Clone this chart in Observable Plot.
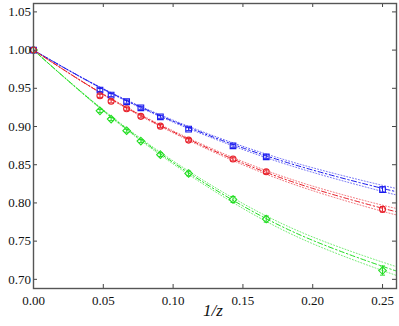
<!DOCTYPE html>
<html>
<head>
<meta charset="utf-8">
<script src="https://cdn.jsdelivr.net/npm/d3@7"></script>
<script src="https://cdn.jsdelivr.net/npm/@observablehq/plot@0.6"></script>
<style>
  html, body { margin: 0; padding: 0; background: #fff; }
  #chart svg { display: block; }
  #chart svg text { font-family: "Liberation Serif", "Times New Roman", serif; }
</style>
</head>
<body>
<div id="chart"></div>
<script>
// 1/z values of the measured points
const xs = [0, 0.0476, 0.0556, 0.0667, 0.0769, 0.0909, 0.1111, 0.1429, 0.1667, 0.25];
// series values and error bars
const blueY  = [1.0, 0.9477, 0.9411, 0.9324, 0.9245, 0.9127, 0.8966, 0.8748, 0.8604, 0.8175];
const blueE  = [0, 0.002, 0.002, 0.002, 0.002, 0.002, 0.002, 0.002, 0.0025, 0.0035];
const redY   = [1.0, 0.9402, 0.9330, 0.9232, 0.9133, 0.9005, 0.8822, 0.8574, 0.8408, 0.7916];
const redE   = [0, 0.002, 0.002, 0.002, 0.002, 0.002, 0.0022, 0.0025, 0.0025, 0.0035];
const greenY = [1.0, 0.9205, 0.9097, 0.8945, 0.8809, 0.8632, 0.8386, 0.8045, 0.7789, 0.7115];
const greenE = [0, 0.002, 0.002, 0.002, 0.002, 0.0025, 0.003, 0.004, 0.004, 0.006];
// fit curves
const fitX     = [0, 0.05, 0.10, 0.15, 0.20, 0.25, 0.26];
const fitBlue  = [1, 0.949, 0.907, 0.872, 0.843, 0.819, 0.815];
const fitRed   = [1, 0.942, 0.893, 0.852, 0.819, 0.793, 0.789];
const fitGreen = [1, 0.921, 0.853, 0.796, 0.751, 0.717, 0.711];
// half-width of the dotted confidence band
const bandBlue  = [0, 0.0006, 0.0013, 0.0021, 0.003, 0.004, 0.0043];
const bandRed   = [0, 0.0006, 0.0013, 0.0021, 0.003, 0.004, 0.0043];
const bandGreen = [0, 0.0009, 0.002, 0.0032, 0.0044, 0.0055, 0.0058];
// tick labels
const xTicks = [0, 0.05, 0.10, 0.15, 0.20, 0.25];
const yTicks = [0.70, 0.75, 0.80, 0.85, 0.90, 0.95, 1.00, 1.05];

const W = 399, H = 326, mL = 33, mR = 3, mT = 3, mB = 38;
const plotW = W - mL - mR, plotH = H - mT - mB;
const serif = "Liberation Serif, Times New Roman, serif";

const series = [
  {name: "green", color: "#22dd22", y: greenY, e: greenE, fit: fitGreen, band: bandGreen, symbol: "diamond2", r: 3.4, dash: "5,2.5,1.5,2.5"},
  {name: "blue",  color: "#1a1aee", y: blueY,  e: blueE,  fit: fitBlue,  band: bandBlue,  symbol: "square",   r: 3.2, dash: "5,2.5,1.5,2.5"},
  {name: "red",   color: "#e8202a", y: redY,   e: redE,   fit: fitRed,   band: bandRed,   symbol: "circle",   r: 3.0, dash: "5,2.5,1.5,2.5"}
];

const capSymbol = {
  draw(context, size) {
    const w = Math.sqrt(size / Math.PI);
    context.moveTo(-w, 0);
    context.lineTo(w, 0);
  }
};

const marks = [];
for (const s of series) {
  const fit = fitX.map((x, i) => ({x, y: s.fit[i], lo: s.fit[i] - s.band[i], hi: s.fit[i] + s.band[i]}));
  marks.push(Plot.line(fit, {x: "x", y: "lo", curve: "natural", stroke: s.color, strokeWidth: 0.9, strokeDasharray: "1,2", strokeOpacity: 0.7}));
  marks.push(Plot.line(fit, {x: "x", y: "hi", curve: "natural", stroke: s.color, strokeWidth: 0.9, strokeDasharray: "1,2", strokeOpacity: 0.7}));
  marks.push(Plot.line(fit, {x: "x", y: "y", curve: "natural", stroke: s.color, strokeWidth: 1, strokeDasharray: s.dash}));
}
for (const s of series) {
  const pts = xs.map((x, i) => ({x, y: s.y[i], lo: s.y[i] - s.e[i], hi: s.y[i] + s.e[i]}));
  const withErr = pts.filter(d => d.hi > d.lo);
  marks.push(Plot.ruleX(withErr, {x: "x", y1: "lo", y2: "hi", stroke: s.color, strokeWidth: 1}));
  marks.push(Plot.dot(withErr, {x: "x", y: "lo", symbol: capSymbol, r: 2.5, stroke: s.color, strokeWidth: 1}));
  marks.push(Plot.dot(withErr, {x: "x", y: "hi", symbol: capSymbol, r: 2.5, stroke: s.color, strokeWidth: 1}));
  marks.push(Plot.dot(pts, {x: "x", y: "y", symbol: s.symbol, r: s.r, stroke: s.color, fill: "none", strokeWidth: 1.1}));
}

// inward ticks on all four sides
marks.push(Plot.tickX(xTicks, {x: d => d, insetTop: plotH - 4, stroke: "#444"}));
marks.push(Plot.tickX(xTicks, {x: d => d, insetBottom: plotH - 4, stroke: "#444"}));
marks.push(Plot.tickY(yTicks, {y: d => d, insetRight: plotW - 4, stroke: "#444"}));
marks.push(Plot.tickY(yTicks, {y: d => d, insetLeft: plotW - 4, stroke: "#444"}));
marks.push(Plot.frame({stroke: "#555", strokeWidth: 1.4}));
marks.push(Plot.axisX(xTicks, {tickSize: 0, tickPadding: 7, tickFormat: d3.format(".2f"), fontSize: 13, fontFamily: serif, label: null, fill: "#111"}));
marks.push(Plot.axisY(yTicks, {tickSize: 0, tickPadding: 2.5, tickFormat: d3.format(".2f"), fontSize: 13, fontFamily: serif, label: null, fill: "#111"}));
marks.push(Plot.text(["1/z"], {frameAnchor: "bottom", dy: 27, dx: -2, fontSize: 17, fontStyle: "italic", fontFamily: serif, fill: "#111", text: d => d}));

const chart = Plot.plot({
  width: W, height: H,
  marginLeft: mL, marginRight: mR, marginTop: mT, marginBottom: mB,
  style: {fontFamily: serif, background: "#fff"},
  x: {domain: [0, 0.26], axis: null},
  y: {domain: [0.688, 1.061], axis: null},
  marks
});
document.getElementById("chart").appendChild(chart);
</script>
</body>
</html>
